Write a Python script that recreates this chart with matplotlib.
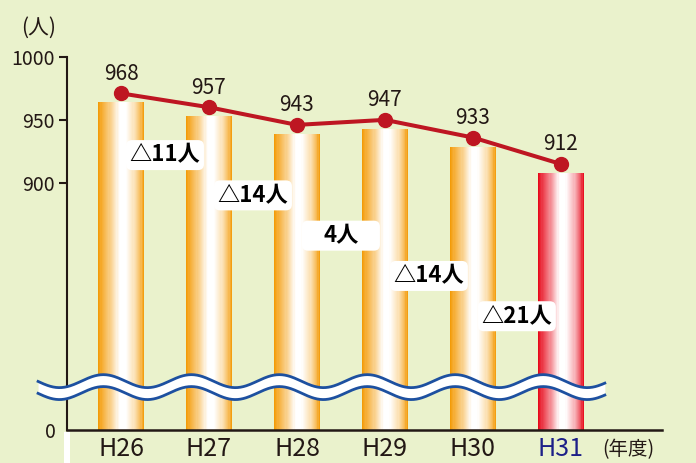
import numpy as np
import matplotlib
matplotlib.use('Agg')
import matplotlib.pyplot as plt
import matplotlib.transforms as mtransforms
from matplotlib.patches import FancyBboxPatch, Rectangle

years = ['H26', 'H27', 'H28', 'H29', 'H30', 'H31']
people = [968, 957, 943, 947, 933, 912]
ytick_vals = [900, 950, 1000]

plt.rcParams['font.family'] = ['Noto Sans CJK JP', 'DejaVu Sans']

bg = '#eaf2cc'
ink = '#231815'
line_red = '#be1622'
wave_blue = '#1d50a0'

fig = plt.figure(figsize=(6.96, 4.63), dpi=100, facecolor=bg)
ax = fig.add_axes([67/696, 33/463, 595/696, 373/463])
ax.set_facecolor(bg)

# broken axis: 0..740 squeezed into the bottom strip, 740..1000 linear above it
def fwd(v):
    v = np.asarray(v, float)
    return np.where(v < 740, v * 45 / 740, 45 + (v - 740) * 1.26)

def inv(u):
    u = np.asarray(u, float)
    return np.where(u < 45, u * 740 / 45, 740 + (u - 45) / 1.26)

ax.set_yscale('function', functions=(fwd, inv))
ax.set_ylim(0, 1000)
ax.set_xlim(-0.614, 6.15)

x = np.arange(len(years))

# bars with a horizontal white-centre gradient, drawn as thin slices
bw = 0.52
n = 40
t = (np.arange(n) + 0.5) / n
w = np.interp(t, [0, 0.08, 0.3, 0.47, 0.6, 0.8, 0.93, 1],
              [1, 0.8, 0.4, 0, 0, 0.3, 0.65, 1])
orange = np.array([243, 152, 0]) / 255
red = np.array([230, 0, 18]) / 255
white = np.ones(3)
bar_down = mtransforms.offset_copy(ax.transData, fig=fig, y=-5, units='dots')
for i, v in enumerate(people):
    base = red if i == len(people) - 1 else orange
    cols = white[None, :] * (1 - w[:, None]) + base[None, :] * w[:, None]
    ax.bar(i - bw / 2 + t * bw, [v] * n, width=bw / n * 1.05, color=cols,
           linewidth=0, antialiased=False, zorder=1, transform=bar_down)

# wavy break band
blend = mtransforms.blended_transform_factory(ax.transData, ax.transAxes)
wx = np.linspace(-0.943, 5.5, 600)
wy = 0.115 + 0.0174 * np.cos(2 * np.pi * (wx + 0.2))
half = 0.016
ax.fill_between(wx, wy - half, wy + half, color='white', lw=0,
                transform=blend, clip_on=False, zorder=4)
ax.plot(wx, wy + half, color=wave_blue, lw=2.0, transform=blend, clip_on=False, zorder=4.1)
ax.plot(wx, wy - half, color=wave_blue, lw=2.0, transform=blend, clip_on=False, zorder=4.1)

# line with markers
line_up = mtransforms.offset_copy(ax.transData, fig=fig, y=4, units='dots')
ax.plot(x, people, color=line_red, lw=2.9, marker='o', ms=10, zorder=5,
        transform=line_up, clip_on=False)
for i, v in enumerate(people):
    ax.annotate(str(v), (i, v), xytext=(0, 17), textcoords='offset points',
                ha='center', va='center', fontsize=15, color=ink, zorder=6)

# year-on-year change boxes
diffs = np.diff(people)
for i, d in enumerate(diffs):
    lab = f'△{-d}人' if d < 0 else f'{d}人'
    yy = 0.737 - 0.108 * i
    tr = fig.dpi_scale_trans + mtransforms.ScaledTranslation(i + 0.5, yy, blend)
    box = FancyBboxPatch((-0.39, -0.15), 0.78, 0.30,
                         boxstyle='round,pad=0,rounding_size=0.06',
                         facecolor='white', edgecolor='none', transform=tr, zorder=6)
    ax.add_patch(box)
    ax.text(i + 0.5, yy, lab, transform=blend, ha='center', va='center',
            fontsize=16, fontweight='bold', color='black', zorder=7)

# axes styling
for s in ['top', 'right']:
    ax.spines[s].set_visible(False)
ax.spines['left'].set_linewidth(1.5)
ax.spines['bottom'].set_linewidth(1.8)
ax.spines['left'].set_color(ink)
ax.spines['bottom'].set_color(ink)

ax.set_yticks(ytick_vals)
ax.set_yticklabels([str(v) for v in ytick_vals])
ax.tick_params(axis='y', length=5.8, width=1.5, pad=3, labelsize=14, colors=ink)
ax.set_xticks(x)
ax.set_xticklabels(years)
ax.tick_params(axis='x', length=0, pad=4, labelsize=18, colors=ink)
ax.get_xticklabels()[-1].set_color('#1d2088')

ax.annotate('0', (0, 0), xycoords='axes fraction', xytext=(-8, -2),
            textcoords='offset points', ha='right', va='center', fontsize=14, color=ink)

fig.text(39/696, 1 - 28/463, '(人)', ha='center', va='center', fontsize=15, color=ink)
fig.text(628/696, 1 - 450/463, '(年度)', ha='center', va='center', fontsize=14, color=ink)

fig.patches.append(Rectangle((64/696, 0), 6/696, 31/463, transform=fig.transFigure,
                             facecolor='white', edgecolor='none', zorder=0))

fig.savefig('out.png', dpi=100, facecolor=bg)
